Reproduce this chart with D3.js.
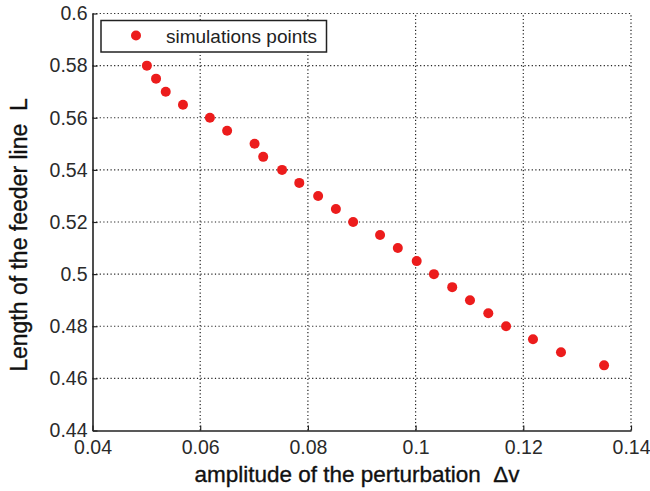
<!DOCTYPE html>
<html>
<head>
<meta charset="utf-8">
<script src="https://cdn.jsdelivr.net/npm/d3@7/dist/d3.min.js"></script>
<style>
  html, body { margin: 0; padding: 0; background: #fff; }
  svg { display: block; }
  text { font-family: Arial, "Liberation Sans", sans-serif; white-space: pre; }
</style>
</head>
<body>
<svg id="chart" width="650" height="491"></svg>
<script>
// Simulation results: perturbation amplitude Δv vs. feeder line length L
const amplitude = [0.0501, 0.0518, 0.0536, 0.0568, 0.0618, 0.0650, 0.0701, 0.0717,
                   0.0752, 0.0784, 0.0819, 0.0852, 0.0884, 0.0934, 0.0967, 0.1002,
                   0.1034, 0.1068, 0.1101, 0.1135, 0.1168, 0.1218, 0.1270, 0.1350];
const lengthL   = [0.580, 0.575, 0.570, 0.565, 0.560, 0.555, 0.550, 0.545,
                   0.540, 0.535, 0.530, 0.525, 0.520, 0.515, 0.510, 0.505,
                   0.500, 0.495, 0.490, 0.485, 0.480, 0.475, 0.470, 0.465];
const xTicks = [0.04, 0.06, 0.08, 0.1, 0.12, 0.14];
const yTicks = [0.44, 0.46, 0.48, 0.5, 0.52, 0.54, 0.56, 0.58, 0.6];
const seriesName = "simulations points";

const svg = d3.select("#chart");
const plot = { left: 92.5, right: 631, top: 13.5, bottom: 430.5 };

const x = d3.scaleLinear().domain([0.04, 0.14]).range([plot.left, plot.right]);
const y = d3.scaleLinear().domain([0.44, 0.6]).range([plot.bottom, plot.top]);
const fmt = d => String(+d.toFixed(2));

// dotted grid lines
const grid = svg.append("g").attr("stroke", "#222").attr("stroke-width", 1.2)
  .attr("stroke-dasharray", "1.2,2.4");
grid.selectAll("line.gx").data(xTicks.slice(1)).join("line")
  .attr("x1", d => x(d)).attr("x2", d => x(d))
  .attr("y1", plot.bottom).attr("y2", plot.top);
grid.selectAll("line.gy").data(yTicks.slice(1)).join("line")
  .attr("x1", plot.left).attr("x2", plot.right)
  .attr("y1", d => y(d)).attr("y2", d => y(d));

// axes with inward ticks
const xAxis = svg.append("g").attr("transform", `translate(0,${plot.bottom})`)
  .call(d3.axisBottom(x).tickValues(xTicks).tickFormat(fmt).tickSizeInner(-5).tickSizeOuter(0).tickPadding(10));
const yAxis = svg.append("g").attr("transform", `translate(${plot.left},0)`)
  .call(d3.axisLeft(y).tickValues(yTicks).tickFormat(fmt).tickSizeInner(-5).tickSizeOuter(0).tickPadding(5));
[xAxis, yAxis].forEach(a => {
  a.select(".domain").attr("stroke", "#222").attr("stroke-width", 1.6);
  a.selectAll(".tick line").attr("stroke", "#222").attr("stroke-width", 1.2);
  a.selectAll(".tick text").attr("fill", "#2a2a2a").style("font-size", "19.5px")
    .style("font-family", "Arial, 'Liberation Sans', sans-serif");
});

// data points
svg.append("g").selectAll("circle").data(amplitude).join("circle")
  .attr("cx", d => x(d))
  .attr("cy", (d, i) => y(lengthL[i]))
  .attr("r", 5)
  .attr("fill", "#ec1c1c");

// legend
const lg = svg.append("g");
lg.append("rect").attr("x", 101).attr("y", 20.5).attr("width", 225.5).attr("height", 31.5)
  .attr("fill", "#fff").attr("stroke", "#222").attr("stroke-width", 1.5);
lg.append("circle").attr("cx", 136).attr("cy", 35.5).attr("r", 5).attr("fill", "#ec1c1c");
lg.append("text").attr("x", 166).attr("y", 43).attr("fill", "#222")
  .style("font-size", "19px").text(seriesName);

// axis titles
svg.append("text").attr("x", 357).attr("y", 482).attr("text-anchor", "middle")
  .attr("fill", "#111").attr("stroke", "#111").attr("stroke-width", 0.35)
  .style("font-size", "22.5px")
  .text("amplitude of the perturbation  \u0394v");
svg.append("text").attr("transform", "translate(27,235) rotate(-90)")
  .attr("text-anchor", "middle").attr("fill", "#111")
  .attr("stroke", "#111").attr("stroke-width", 0.35)
  .style("font-size", "23px")
  .text("Length of the feeder line  L");
</script>
</body>
</html>
